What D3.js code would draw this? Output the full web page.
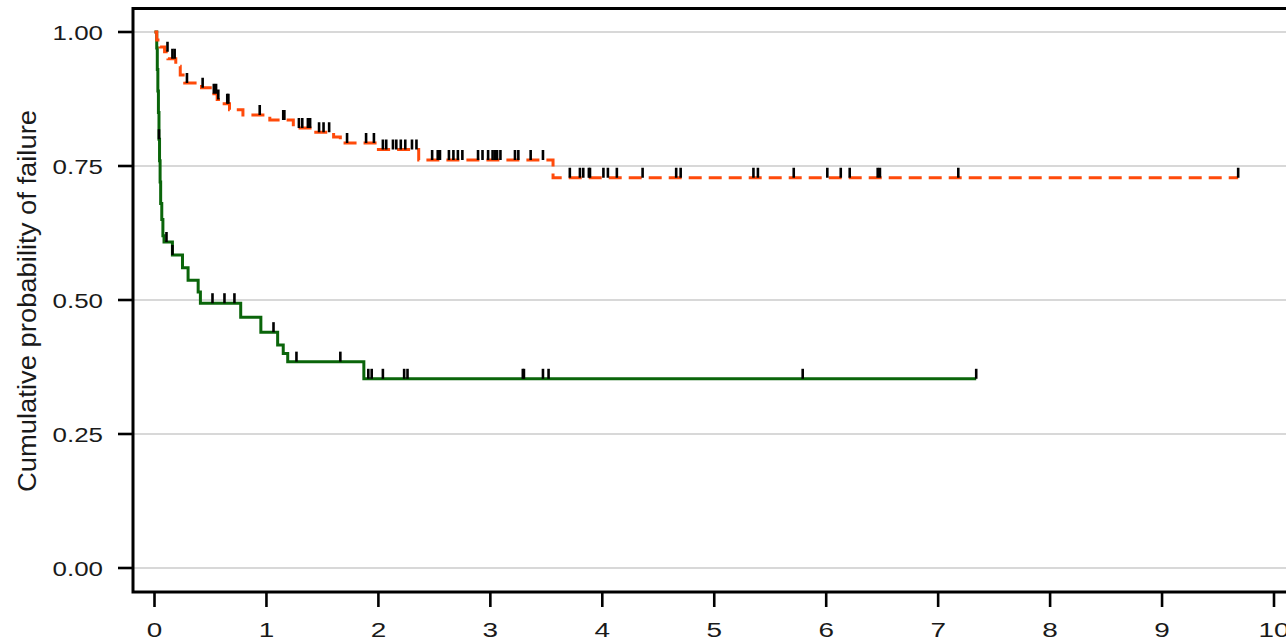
<!DOCTYPE html>
<html>
<head>
<meta charset="utf-8">
<script src="https://cdn.jsdelivr.net/npm/d3@7"></script>
<style>
  html, body { margin: 0; padding: 0; background: #fff; }
  svg { display: block; }
</style>
</head>
<body>
<svg id="chart" width="1286" height="642"></svg>
<script>
// Axis ticks
const xTicks = [0, 1, 2, 3, 4, 5, 6, 7, 8, 9, 10];
const yTicks = [0, 0.25, 0.5, 0.75, 1];
const yTickLabels = ["0.00", "0.25", "0.50", "0.75", "1.00"];
const yTitle = "Cumulative probability of failure";

// Group A (dashed orange): step times and curve value after each step
const aTimes = [0.02, 0.05, 0.09, 0.12, 0.19, 0.23, 0.27, 0.42, 0.53, 0.56, 0.60, 0.67, 0.79,
                1.03, 1.24, 1.41, 1.60, 1.66, 2.00, 2.36, 3.56];
const aValues = [0.985, 0.972, 0.963, 0.950, 0.936, 0.920, 0.905, 0.896, 0.885, 0.874, 0.866, 0.855, 0.845,
                 0.836, 0.821, 0.813, 0.804, 0.793, 0.781, 0.761, 0.728];
const aEnd = 9.68;
const aCensored = [0.116, 0.16, 0.18, 0.29, 0.43, 0.53, 0.55, 0.57, 0.65, 0.66, 0.94, 1.15, 1.16,
                   1.29, 1.32, 1.37, 1.39, 1.47, 1.51, 1.56, 1.72, 1.89, 1.96, 2.04, 2.07, 2.13, 2.16,
                   2.20, 2.24, 2.30, 2.34, 2.48, 2.53, 2.55, 2.63, 2.67, 2.71, 2.75, 2.89, 2.93, 2.98,
                   3.02, 3.04, 3.06, 3.09, 3.22, 3.25, 3.36, 3.47, 3.71, 3.80, 3.83, 3.88, 3.89, 4.01,
                   4.05, 4.13, 4.36, 4.66, 4.70, 5.35, 5.39, 5.71, 6.01, 6.13, 6.21, 6.46, 6.48, 7.18, 9.68];

// Group B (solid green)
const bTimes = [0.02, 0.025, 0.03, 0.035, 0.04, 0.045, 0.05, 0.055, 0.065, 0.075, 0.085,
                0.16, 0.25, 0.30, 0.39, 0.41, 0.77, 0.95, 1.10, 1.15, 1.19, 1.87];
const bValues = [0.97, 0.93, 0.89, 0.85, 0.80, 0.76, 0.72, 0.68, 0.65, 0.62, 0.608,
                 0.584, 0.560, 0.537, 0.515, 0.494, 0.468, 0.440, 0.416, 0.400, 0.385, 0.353];
const bEnd = 7.34;
const bCensored = [0.04, 0.107, 0.16, 0.518, 0.625, 0.714, 1.063, 1.268, 1.66, 1.91, 1.94, 2.04,
                   2.23, 2.26, 3.29, 3.30, 3.47, 3.52, 5.79, 7.34];

const svg = d3.select("#chart");
const W = 1286, H = 642;

const panel = { left: 133, top: 8.5, right: 1300, bottom: 592 };
const x = d3.scaleLinear().domain([0, 10]).range([154.5, 1274]);
const y = d3.scaleLinear().domain([0, 1]).range([568, 32]);

const FONT = "'Liberation Sans', Arial, Helvetica, sans-serif";
const textColor = "#1a1a1a";
const stretch = 1.33;

svg.append("rect").attr("width", W).attr("height", H).attr("fill", "#fff");

// horizontal grid lines
svg.append("g").selectAll("line").data(yTicks).join("line")
  .attr("x1", panel.left).attr("x2", panel.right)
  .attr("y1", d => y(d)).attr("y2", d => y(d))
  .attr("stroke", "#d8d8d8").attr("stroke-width", 2.2);

// step curve helpers
function stepPoints(times, values, end) {
  const pts = [[0, 1]];
  times.forEach((t, i) => pts.push([t, values[i]]));
  pts.push([end, values[values.length - 1]]);
  return pts;
}
function valueAt(times, values, t) {
  let v = 1;
  for (let i = 0; i < times.length; i++) { if (times[i] <= t) v = values[i]; else break; }
  return v;
}
const line = d3.line().x(d => x(d[0])).y(d => y(d[1])).curve(d3.curveStepAfter);

svg.append("clipPath").attr("id", "plotclip").append("rect")
  .attr("x", panel.left).attr("y", panel.top).attr("width", panel.right - panel.left)
  .attr("height", panel.bottom - panel.top);

const plot = svg.append("g").attr("clip-path", "url(#plotclip)");

plot.append("path")
  .datum(stepPoints(bTimes, bValues, bEnd))
  .attr("d", line).attr("fill", "none")
  .attr("stroke", "#0a650a").attr("stroke-width", 3);

plot.append("path")
  .datum(stepPoints(aTimes, aValues, aEnd))
  .attr("d", line).attr("fill", "none")
  .attr("stroke", "#ff4a0a").attr("stroke-width", 3)
  .attr("stroke-dasharray", "13,7");

// censoring marks
function drawCensor(times, values, censored) {
  plot.append("g").selectAll("line").data(censored).join("line")
    .attr("x1", d => x(d)).attr("x2", d => x(d))
    .attr("y1", d => y(valueAt(times, values, d)))
    .attr("y2", d => y(valueAt(times, values, d)) - 10)
    .attr("stroke", "#000").attr("stroke-width", 2.6);
}
drawCensor(aTimes, aValues, aCensored);
drawCensor(bTimes, bValues, bCensored);

// panel border
svg.append("rect")
  .attr("x", panel.left).attr("y", panel.top)
  .attr("width", panel.right - panel.left).attr("height", panel.bottom - panel.top)
  .attr("fill", "none").attr("stroke", "#000").attr("stroke-width", 3);

// y axis ticks and labels
const yAxis = svg.append("g");
yAxis.selectAll("line").data(yTicks).join("line")
  .attr("x1", 118).attr("x2", panel.left)
  .attr("y1", d => y(d)).attr("y2", d => y(d))
  .attr("stroke", "#000").attr("stroke-width", 2.6);
yAxis.selectAll("text").data(yTicks).join("text")
  .attr("transform", d => `translate(103,${y(d) + 1}) scale(${stretch},1)`)
  .attr("text-anchor", "end").attr("dominant-baseline", "central")
  .attr("font-family", FONT).attr("font-size", 19.5).attr("fill", textColor)
  .text((d, i) => yTickLabels[i]);

// x axis ticks and labels
const xAxis = svg.append("g");
xAxis.selectAll("line").data(xTicks).join("line")
  .attr("x1", d => x(d)).attr("x2", d => x(d))
  .attr("y1", panel.bottom).attr("y2", 607)
  .attr("stroke", "#000").attr("stroke-width", 2.6);
xAxis.selectAll("text").data(xTicks).join("text")
  .attr("transform", d => `translate(${x(d)},637) scale(${stretch},1)`)
  .attr("text-anchor", "middle")
  .attr("font-family", FONT).attr("font-size", 21).attr("fill", textColor)
  .text(d => d);

// y axis title
svg.append("text")
  .attr("transform", `translate(36,301) rotate(-90)`)
  .attr("text-anchor", "middle")
  .attr("font-family", FONT).attr("font-size", 25).attr("fill", textColor)
  .attr("textLength", 382).attr("lengthAdjust", "spacingAndGlyphs")
  .text(yTitle);
</script>
</body>
</html>
